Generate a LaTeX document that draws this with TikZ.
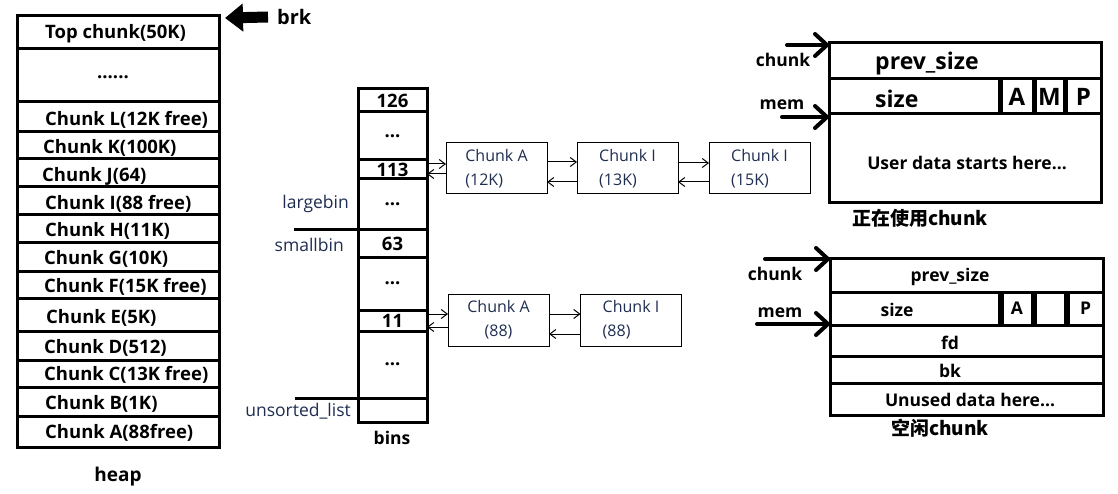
\documentclass[tikz,border=0pt]{standalone}
\usepackage{fontspec}
\setmainfont{Open Sans}
\newfontfamily\cjk{Noto Sans CJK SC}
\usetikzlibrary{arrows.meta}
\definecolor{navy}{RGB}{30,45,80}
\newcommand\bindots{...}
\tikzset{
  heavy/.style={line width=3pt},
  heaptxt/.style={anchor=west,inner sep=0pt,font=\bfseries\fontsize{18.5}{18.5}\selectfont},
  bincell/.style={draw,line width=3pt,minimum width=69pt,inner sep=0pt,outer sep=0pt,font=\bfseries\fontsize{18.5}{18.5}\selectfont},
  binlabel/.style={anchor=east,inner sep=0pt,text=navy,font=\fontsize{17.5}{17.5}\selectfont},
  listbox/.style={draw,line width=1pt,minimum width=101pt,minimum height=51pt,outer sep=0pt,text=navy,font=\fontsize{16}{24}\selectfont,align=left},
  link/.style={line width=1pt,-{Straight Barb[length=6pt,width=9pt]}},
  field/.style={draw,line width=3pt,inner sep=0pt,outer sep=0pt},
  bigtxt/.style={inner sep=0pt,font=\bfseries\fontsize{23}{23}\selectfont},
  midtxt/.style={inner sep=0pt,font=\bfseries\fontsize{17.5}{17.5}\selectfont},
  cjktxt/.style={inner sep=0pt,font=\cjk\bfseries\fontsize{19}{19}\selectfont},
  ptr/.style={line width=4pt,line cap=round,-{Straight Barb[length=12pt,width=22pt,round]}}
}
\begin{document}
\begin{tikzpicture}[x=1pt,y=-1pt]
\useasboundingbox (0,0) rectangle (1118,494);
% heap
\draw[heavy] (17,16) rectangle (219,447);
\foreach \y in {49,102,132,159,187,215,243,271,298,331,360,387,416}
  \draw[heavy] (17,\y) -- (219,\y);
\foreach \x/\y/\n/\t in {45/34/top/Top chunk(50K),45/120/L/Chunk L(12K free),43/148/K/Chunk K(100K),
  42/176/J/Chunk J(64),45/204/I/Chunk I(88 free),45/231/H/Chunk H(11K),44/259/G/Chunk G(10K),
  44/287/F/Chunk F(15K free),46/318/E/Chunk E(5K),44/348/D/Chunk D(512),44/375/C/Chunk C(13K free),
  45/404/B/Chunk B(1K),45/433/A/Chunk A(88free)}
  \node[heaptxt] (heap\n) at (\x,\y) {\t};
\node[heaptxt,anchor=center] (heapdots) at (113,77) {......};
\node[heaptxt,anchor=center,font=\bfseries\fontsize{19}{19}\selectfont] (heaplabel) at (118,477) {heap};
\node[heaptxt,font=\bfseries\fontsize{20}{20}\selectfont] (brk) at (277,17) {brk};
\coordinate (heaptop) at (225,18);
\draw[line width=11pt,-{Triangle[length=18pt,width=27pt]}] ([xshift=-9pt]brk.west) -- (heaptop);
% bins
\foreach \ya/\yb/\n/\t in {89/112/126/126,112/160/d1/\bindots,160/179/113/113,179/230/d2/\bindots,
  230/257/63/63,257/310/d3/\bindots,310/331/11/11,331/398/d4/\bindots,398/422/u/{}}
  \node[bincell,minimum height={(\yb-\ya)*1pt}] (bin\n) at (392.5,{(\ya+\yb)/2}) {\t};
\draw[heavy] (bin63.north west) -- ++(-64,0);
\draw[heavy] (binu.north west) -- ++(-63,0);
\node[binlabel] (largebin) at (349,204) {largebin};
\node[binlabel] (smallbin) at (344,245) {smallbin};
\node[binlabel] (unsorted) at (351,411) {unsorted\_list};
\node[heaptxt,anchor=center,font=\bfseries\fontsize{17.5}{17.5}\selectfont] (binslabel) at (392,438) {bins};
% large bin list
\node[listbox] (la1) at (496.5,168.5) {Chunk A\\(12K)};
\node[listbox] (la2) at (627.5,168.5) {Chunk I\\(13K)};
\node[listbox] (la3) at (759.5,168.5) {Chunk I\\(15K)};
\draw[link] ([yshift=5.5pt]bin113.east) -- ([yshift=4.5pt]la1.west);
\draw[link] ([yshift=-5.5pt]la1.west) -- ([yshift=-4.5pt]bin113.east);
\draw[link] ([yshift=6.5pt]la1.east) -- ([yshift=6.5pt]la2.west);
\draw[link] ([yshift=-13.5pt]la2.west) -- ([yshift=-13.5pt]la1.east);
\draw[link] ([yshift=5.5pt]la2.east) -- ([yshift=5.5pt]la3.west);
\draw[link] ([yshift=-13.5pt]la3.west) -- ([yshift=-13.5pt]la2.east);
% small bin list
\node[listbox,minimum height=52pt,align=center] (sa1) at (498.5,320) {Chunk A\\(88)};
\node[listbox,minimum height=52pt] (sa2) at (631,320) {Chunk I\\(88)};
\draw[link] ([yshift=6.5pt]bin11.east) -- ([yshift=6pt]sa1.west);
\draw[link] ([yshift=-7pt]sa1.west) -- ([yshift=-6.5pt]bin11.east);
\draw[link] ([yshift=6pt]sa1.east) -- ([yshift=6pt]sa2.west);
\draw[link] ([yshift=-14pt]sa2.west) -- ([yshift=-14pt]sa1.east);
% chunk in use
\node[field,minimum width=272pt,minimum height=36pt] (uprev) at (965,61) {};
\node[field,minimum width=170pt,minimum height=35pt] (usize) at (914,96.5) {};
\node[field,minimum width=32pt,minimum height=35pt,font=\bfseries\fontsize{24}{24}\selectfont] (uA) at (1017,96.5) {A};
\node[field,minimum width=29pt,minimum height=35pt,font=\bfseries\fontsize{24}{24}\selectfont] (uM) at (1049.5,96.5) {M};
\node[field,minimum width=35pt,minimum height=35pt,font=\bfseries\fontsize{24}{24}\selectfont] (uP) at (1083.5,96.5) {P};
\node[field,minimum width=272pt,minimum height=89pt] (udata) at (965,158.5) {};
\node[bigtxt,anchor=west] (uprevtxt) at (875,64) {prev\_size};
\node[bigtxt,anchor=west] (usizetxt) at (875,99) {size};
\node[midtxt] (udatatxt) at (967,163) {User data starts here...};
\node[cjktxt] (usedlabel) at (920,218) {正在使用chunk};
\coordinate (uchunkptr) at (787,45);
\coordinate (umemptr) at (782,117);
\draw[ptr] (uchunkptr) -- ([yshift=-2pt]uprev.north west);
\draw[ptr] (umemptr) -- ([yshift=-3pt]udata.north west);
\node[midtxt] (uchunk) at (783,60) {chunk};
\node[midtxt] (umem) at (782,105) {mem};
% free chunk
\node[field,minimum width=273pt,minimum height=34pt] (fprev) at (966.5,275) {};
\node[field,minimum width=169pt,minimum height=33pt] (fsize) at (914.5,308.5) {};
\node[field,minimum width=30pt,minimum height=33pt,font=\bfseries\fontsize{17.5}{17.5}\selectfont] (fA) at (1017,308.5) {A};
\node[field,minimum width=30pt,minimum height=33pt] (fM) at (1050,308.5) {};
\node[field,minimum width=35pt,minimum height=33pt,font=\bfseries\fontsize{17.5}{17.5}\selectfont] (fP) at (1085.5,308.5) {P};
\node[field,minimum width=273pt,minimum height=31pt] (ffd) at (966.5,340.5) {};
\node[field,minimum width=273pt,minimum height=27pt] (fbk) at (966.5,369.5) {};
\node[field,minimum width=273pt,minimum height=32pt] (fun) at (966.5,399) {};
\node[midtxt] (fprevtxt) at (950,277) {prev\_size};
\node[midtxt] (fsizetxt) at (897,310) {size};
\node[midtxt] (ffdtxt) at (950,343) {fd};
\node[midtxt] (fbktxt) at (950,371) {bk};
\node[midtxt] (funtxt) at (970,400) {Unused data here...};
\node[cjktxt] (freelabel) at (940,428) {空闲chunk};
\coordinate (fchunkptr) at (765,259);
\coordinate (fmemptr) at (757,324);
\draw[ptr] (fchunkptr) -- ([yshift=-1pt]fprev.north west);
\draw[ptr] (fmemptr) -- ([yshift=1pt]fsize.south west);
\node[midtxt] (fchunk) at (775,274) {chunk};
\node[midtxt] (fmem) at (780,313) {mem};
\end{tikzpicture}
\end{document}
